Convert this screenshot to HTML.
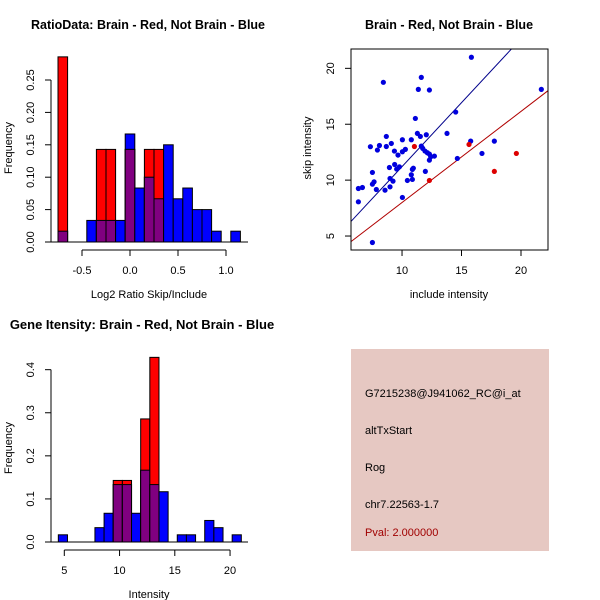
<!DOCTYPE html>
<html><head><meta charset="utf-8"><style>
body{margin:0;background:#fff}
svg{display:block;font-family:"Liberation Sans",sans-serif}
</style></head><body>
<svg id="c" width="600" height="600" viewBox="0 0 600 600">
<rect width="600" height="600" fill="#fff"/>
<g id="p1"></g>
<g id="p2"></g>
<g id="p3"></g>
<g id="p4">
<rect x="351" y="349" width="198" height="202" fill="#e6c8c2"/>
<text x="365" y="397" font-size="11">G7215238@J941062_RC@i_at</text>
<text x="365" y="434" font-size="11">altTxStart</text>
<text x="365" y="471" font-size="11">Rog</text>
<text x="365" y="508" font-size="11">chr7.22563-1.7</text>
<text x="365" y="536" font-size="11" fill="#a00000">Pval: 2.000000</text>
</g>
</svg>
<script>
// ---- Data: ratio histogram ----
const ratioBinStart = -0.75, ratioBinWidth = 0.1;
const ratioBlue = [0.0167,0,0,0.0333,0.0333,0.0333,0.0333,0.1667,0.0833,0.1,0.0667,0.15,0.0667,0.0833,0.05,0.05,0.0167,0,0.0167];
const ratioRed  = [0.2857,0,0,0,0.1429,0.1429,0,0.1429,0,0.1429,0.1429,0,0,0,0,0,0,0,0];
const ratioXTicks = [-0.5,0,0.5,1.0];
const ratioXTickLabels = ["-0.5","0.0","0.5","1.0"];
const ratioYTicks = [0,0.05,0.1,0.15,0.2,0.25];
const ratioYTickLabels = ["0.00","0.05","0.10","0.15","0.20","0.25"];
// ---- Data: gene intensity histogram ----
const intBinStart = 4.46, intBinWidth = 0.828;
const intBlue = [0.0167,0,0,0,0.0333,0.0667,0.1333,0.1333,0.0667,0.1667,0.1333,0.1167,0,0.0167,0.0167,0,0.05,0.0333,0,0.0167];
const intRed  = [0,0,0,0,0,0,0.1429,0.1429,0,0.2857,0.4286,0,0,0,0,0,0,0,0,0];
const intXTicks = [5,10,15,20];
const intXTickLabels = ["5","10","15","20"];
const intYTicks = [0,0.1,0.2,0.3,0.4];
const intYTickLabels = ["0.0","0.1","0.2","0.3","0.4"];
// ---- Data: scatter ----
const blueX = [6.33,6.33,6.67,7.34,7.51,7.51,7.65,7.51,7.84,7.93,8.10,8.43,8.57,8.68,8.68,8.94,8.99,8.99,9.10,9.24,9.36,9.38,9.55,9.66,9.78,10.03,10.03,10.03,10.28,10.45,10.78,10.78,10.87,10.87,10.95,11.12,11.29,11.37,11.54,11.62,11.62,11.74,11.93,11.96,12.04,12.13,12.30,12.30,12.30,12.41,12.72,13.78,14.51,14.65,15.77,15.83,16.72,17.76,21.71];
const blueY = [9.25,8.06,9.34,12.99,10.69,9.64,9.85,4.42,9.16,12.69,13.10,18.75,9.10,13.91,13.01,11.13,9.40,10.15,13.28,9.91,12.60,11.40,10.99,12.24,11.19,13.61,8.45,12.54,12.75,9.97,10.48,13.61,10.06,10.96,11.07,15.52,14.18,18.12,13.91,19.19,13.04,12.84,12.60,10.78,14.06,12.45,18.06,12.33,11.79,12.09,12.15,14.18,16.09,11.94,13.49,20.99,12.39,13.49,18.12];
const redX = [11.04,12.30,15.63,17.76,19.61];
const redY = [13.01,9.97,13.19,10.78,12.39];
const blueLine = [-0.23,1.144]; // intercept, slope
const redLine = [-0.15,0.815];
const scXTicks = [10,15,20];
const scYTicks = [5,10,15,20];

const NS="http://www.w3.org/2000/svg";
function mk(parent,tag,attrs){const e=document.createElementNS(NS,tag);for(const k in attrs)e.setAttribute(k,attrs[k]);parent.appendChild(e);return e;}
function txt(parent,x,y,s,opts){const t=mk(parent,'text',Object.assign({x:x,y:y,'font-size':11,'text-anchor':'middle'},opts||{}));t.textContent=s;return t;}

function histogram(g,cfg){
  const sx=v=>cfg.x0+(v-cfg.xv0)*cfg.kx, sy=v=>cfg.y0-v*cfg.ky;
  const n=Math.max(cfg.blue.length,cfg.red.length);
  for(let i=0;i<n;i++){
    const b=cfg.blue[i]||0,r=cfg.red[i]||0;
    const xl=sx(cfg.start+i*cfg.width), xr=sx(cfg.start+(i+1)*cfg.width);
    const m=Math.min(b,r);
    if(b>0){const e=mk(g,'rect',{x:xl,y:sy(b),width:xr-xl,height:sy(0)-sy(b),fill:'#0000ff',stroke:'#000','stroke-width':1});
      
      }
    if(r>0){const e=mk(g,'rect',{x:xl,y:sy(r),width:xr-xl,height:sy(0)-sy(r),fill:'#ff0000',stroke:'#000','stroke-width':1});
      
      }
    if(m>0){const e=mk(g,'rect',{x:xl,y:sy(m),width:xr-xl,height:sy(0)-sy(m),fill:'#800080',stroke:'#000','stroke-width':1});
      
      }
  }
  mk(g,'line',{x1:cfg.baseL,x2:cfg.baseR,y1:sy(0),y2:sy(0),stroke:'#000'});
  const ya=mk(g,'g',{});
  
  
  mk(ya,'line',{x1:cfg.ax,x2:cfg.ax,y1:sy(cfg.yt[0]),y2:sy(cfg.yt[cfg.yt.length-1]),stroke:'#000'});
  cfg.yt.forEach((v,i)=>{mk(ya,'line',{x1:cfg.ax-6,x2:cfg.ax,y1:sy(v),y2:sy(v),stroke:'#000'});
    const t=txt(ya,cfg.ax-20,sy(v),cfg.ytl[i],{transform:`rotate(-90 ${cfg.ax-20} ${sy(v)})`,'dominant-baseline':'middle'});
    
    });
  const xa=mk(g,'g',{});
  
  
  mk(xa,'line',{x1:sx(cfg.xt[0]),x2:sx(cfg.xt[cfg.xt.length-1]),y1:cfg.ay,y2:cfg.ay,stroke:'#000'});
  cfg.xt.forEach((v,i)=>{mk(xa,'line',{x1:sx(v),x2:sx(v),y1:cfg.ay,y2:cfg.ay+6,stroke:'#000'});
    const t=txt(xa,sx(v),cfg.ay+24,cfg.xtl[i]);
    
    });
}

const p1=document.getElementById('p1');
histogram(p1,{x0:130,xv0:0,kx:96,y0:242,ky:648,start:ratioBinStart,width:ratioBinWidth,blue:ratioBlue,red:ratioRed,
  ax:51,ay:250,xt:ratioXTicks,xtl:ratioXTickLabels,yt:ratioYTicks,ytl:ratioYTickLabels,baseL:49,baseR:248});
let t=txt(p1,148,29,'RatioData: Brain - Red, Not Brain - Blue',{'font-weight':'bold','font-size':12.5});


t=txt(p1,149,298,'Log2 Ratio Skip/Include');


t=txt(p1,12,148,'Frequency',{transform:'rotate(-90 12 148)'});



const p3=document.getElementById('p3');
histogram(p3,{x0:64.3,xv0:5,kx:11.05,y0:542,ky:430.8,start:intBinStart,width:intBinWidth,blue:intBlue,red:intRed,
  ax:51,ay:550,xt:intXTicks,xtl:intXTickLabels,yt:intYTicks,ytl:intYTickLabels,baseL:49,baseR:248});
t=txt(p3,142,329,'Gene Itensity: Brain - Red, Not Brain - Blue',{'font-weight':'bold','font-size':13});


t=txt(p3,149,598,'Intensity');


t=txt(p3,12,448,'Frequency',{transform:'rotate(-90 12 448)'});



const p2=document.getElementById('p2');
const L=351,R=548,T=49,B=250;
const xmin=5.71,xmax=22.27,ymin=3.75,ymax=21.73;
const sx=v=>L+(v-xmin)/(xmax-xmin)*(R-L), sy=v=>B-(v-ymin)/(ymax-ymin)*(B-T);
const cp=mk(p2,'clipPath',{id:'clp'});
mk(cp,'rect',{x:L,y:T,width:R-L,height:B-T});
function fitLine(coef,color,name){
  const l=mk(p2,'line',{x1:sx(xmin),y1:sy(coef[0]+coef[1]*xmin),x2:sx(xmax),y2:sy(coef[0]+coef[1]*xmax),stroke:color,'stroke-width':1,'clip-path':'url(#clp)'});
  
  
}
fitLine(blueLine,'#00008b','blue-fit-line');
fitLine(redLine,'#b00000','red-fit-line');
blueX.forEach((x,i)=>{const c=mk(p2,'circle',{cx:sx(x),cy:sy(blueY[i]),r:2.6,fill:'#0000dd'});
  
  });
redX.forEach((x,i)=>{const c=mk(p2,'circle',{cx:sx(x),cy:sy(redY[i]),r:2.6,fill:'#dd0000'});
  
  });
const box=mk(p2,'rect',{x:L,y:T,width:R-L,height:B-T,fill:'none',stroke:'#000'});


scXTicks.forEach(v=>{mk(p2,'line',{x1:sx(v),x2:sx(v),y1:B,y2:B+6,stroke:'#000'});
  const t=txt(p2,sx(v),B+24,String(v));
  
  });
scYTicks.forEach(v=>{mk(p2,'line',{x1:L-6,x2:L,y1:sy(v),y2:sy(v),stroke:'#000'});
  const t=txt(p2,L-20,sy(v),String(v),{transform:`rotate(-90 ${L-20} ${sy(v)})`,'dominant-baseline':'middle'});
  
  });
t=txt(p2,449,29,'Brain - Red, Not Brain - Blue',{'font-weight':'bold','font-size':12.5});


t=txt(p2,449,298,'include intensity');


t=txt(p2,311,148,'skip intensity',{transform:'rotate(-90 311 148)'});


</script>
</body></html>
